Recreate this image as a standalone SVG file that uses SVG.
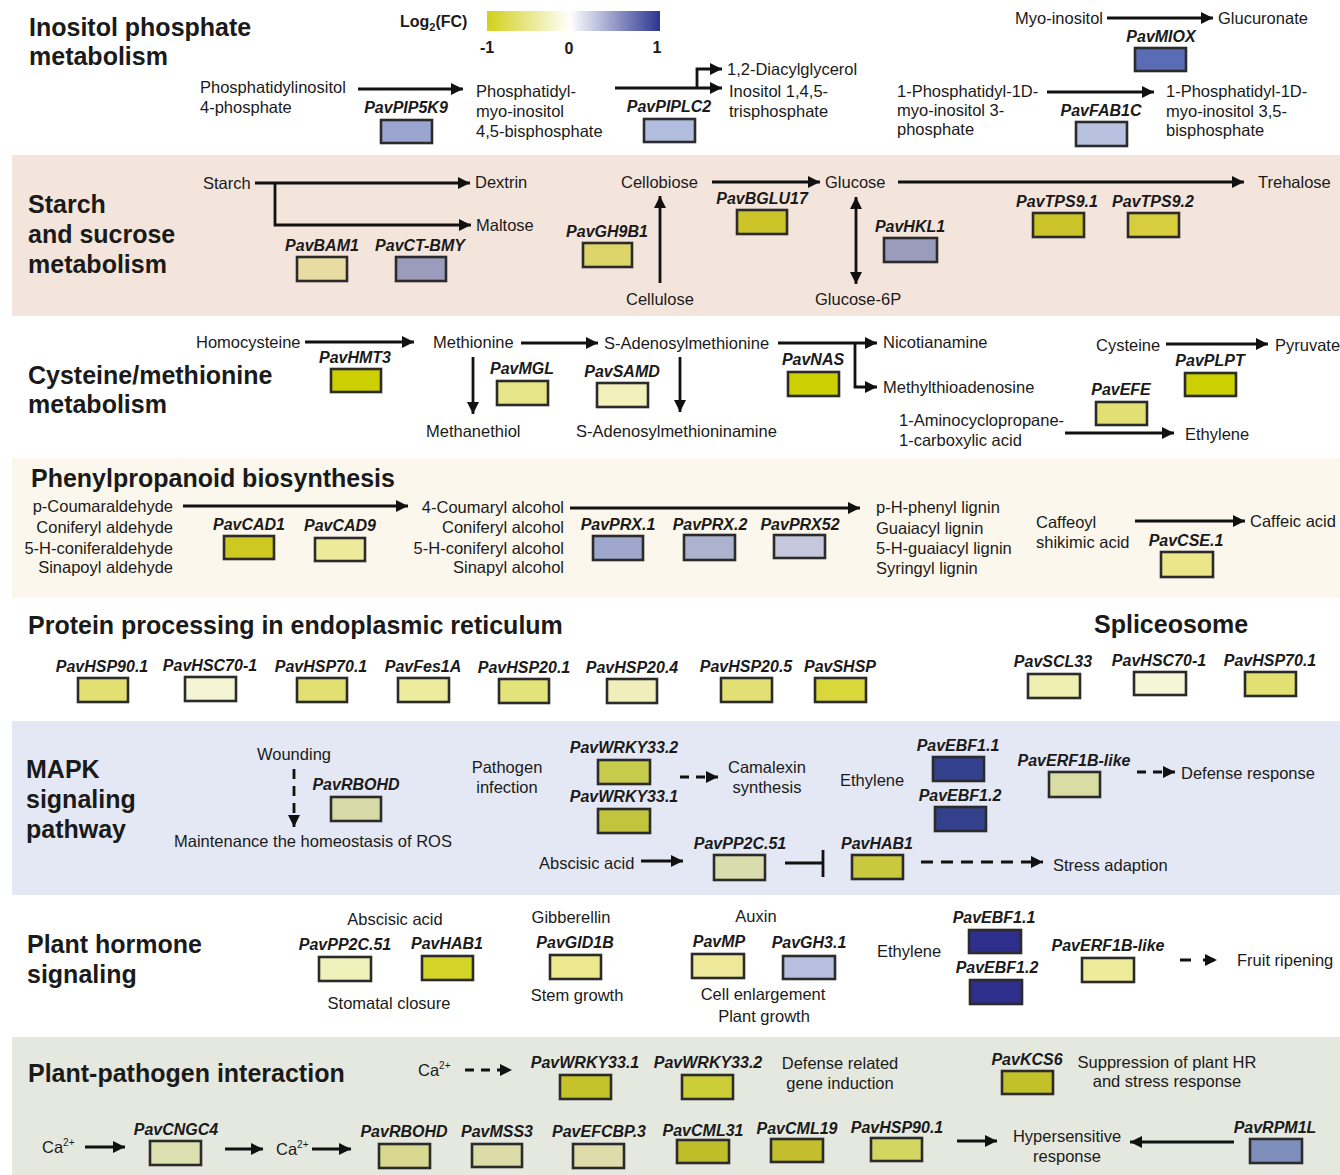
<svg xmlns="http://www.w3.org/2000/svg" width="1340" height="1175" viewBox="0 0 1340 1175">
<defs>
<linearGradient id="lg" x1="0" y1="0" x2="1" y2="0">
<stop offset="0" stop-color="#d2d01a"/>
<stop offset="0.48" stop-color="#ffffff"/>
<stop offset="1" stop-color="#2b3590"/>
</linearGradient>
<marker id="ah" viewBox="0 0 10 10" refX="10" refY="5" markerWidth="13" markerHeight="12" markerUnits="userSpaceOnUse" orient="auto-start-reverse">
<path d="M0,0 L10,5 L0,10 z" fill="#111"/>
</marker>
<style>
text{font-family:"Liberation Sans",Arial,sans-serif;font-size:16.5px;fill:#1a1a1a}
.h{font-size:25px;font-weight:bold}
.g{font-size:16px;font-weight:bold;font-style:italic;text-anchor:middle}
.m{text-anchor:middle}
.e{text-anchor:end}
.box{stroke:#2b2b2b;stroke-width:2.6}
.ln{stroke:#111;stroke-width:2.8;fill:none}
.ar{marker-end:url(#ah)}
.da{stroke-dasharray:9 6}
.lg{font-size:16px;font-weight:bold}
</style>
</defs>

<rect width="1340" height="1175" fill="#ffffff"/>
<g id="bands">
<rect x="12" y="155" width="1328" height="161" fill="#f4e5dc"/>
<rect x="12" y="458" width="1328" height="140" fill="#fcf7ec"/>
<rect x="12" y="721" width="1328" height="174" fill="#e4e8f4"/>
<rect x="12" y="1037" width="1328" height="138" fill="#e5e8df"/>
</g>

<g id="titles">
<text class="h" x="29" y="36">Inositol phosphate</text>
<text class="h" x="29" y="65">metabolism</text>
<text class="h" x="28" y="213">Starch</text>
<text class="h" x="28" y="243">and sucrose</text>
<text class="h" x="28" y="273">metabolism</text>
<text class="h" x="28" y="384">Cysteine/methionine</text>
<text class="h" x="28" y="413">metabolism</text>
<text class="h" x="31" y="487">Phenylpropanoid biosynthesis</text>
<text class="h" x="28" y="634">Protein processing in endoplasmic reticulum</text>
<text class="h" x="1094" y="633">Spliceosome</text>
<text class="h" x="26" y="778">MAPK</text>
<text class="h" x="26" y="808">signaling</text>
<text class="h" x="26" y="838">pathway</text>
<text class="h" x="27" y="953">Plant hormone</text>
<text class="h" x="27" y="983">signaling</text>
<text class="h" x="28" y="1082">Plant-pathogen interaction</text>
</g>

<g id="legend">
<text class="lg" x="400" y="27">Log<tspan font-size="11" dy="4">2</tspan><tspan dy="-4">(FC)</tspan></text>
<rect x="487" y="11" width="173" height="20" fill="url(#lg)"/>
<text class="lg m" x="487" y="53">-1</text>
<text class="lg m" x="569" y="54">0</text>
<text class="lg m" x="657" y="53">1</text>
</g>

<g id="connectors">
<line class="ln ar" x1="358" y1="89" x2="463" y2="89"/>
<line class="ln ar" x1="615" y1="88" x2="722" y2="88"/>
<path class="ln ar" d="M697,88 V69 H722"/>
<line class="ln ar" x1="1107" y1="18" x2="1213" y2="18"/>
<line class="ln ar" x1="1047" y1="92" x2="1154" y2="92"/>

<path class="ln ar" d="M255,183 H470"/>
<path class="ln ar" d="M275,183 V225 H471"/>
<line class="ln ar" x1="660" y1="283" x2="660" y2="196"/>
<line class="ln ar" x1="712" y1="182" x2="820" y2="182"/>
<line class="ln ar" x1="856" y1="197" x2="856" y2="284" marker-start="url(#ah)"/>
<line class="ln ar" x1="898" y1="182" x2="1244" y2="182"/>

<line class="ln ar" x1="305" y1="342" x2="414" y2="342"/>
<line class="ln ar" x1="473" y1="357" x2="473" y2="414"/>
<line class="ln ar" x1="521" y1="343" x2="598" y2="343"/>
<line class="ln ar" x1="680" y1="357" x2="680" y2="412"/>
<path class="ln ar" d="M778,343 H877"/>
<path class="ln ar" d="M855,343 V387 H877"/>
<line class="ln ar" x1="1166" y1="344" x2="1268" y2="344"/>
<line class="ln ar" x1="1065" y1="433" x2="1174" y2="433"/>

<line class="ln ar" x1="183" y1="506" x2="408" y2="506"/>
<line class="ln ar" x1="570" y1="508" x2="860" y2="508"/>
<line class="ln ar" x1="1135" y1="521" x2="1245" y2="521"/>

<line class="ln ar" x1="294" y1="769" x2="294" y2="827" style="stroke-dasharray:10 7"/>
<line class="ln ar" x1="680" y1="777" x2="718" y2="777" style="stroke-dasharray:9 7"/>
<line class="ln ar" x1="1137" y1="772" x2="1175" y2="772" style="stroke-dasharray:9 7"/>
<line class="ln ar" x1="641" y1="861" x2="683" y2="861"/>
<line class="ln" x1="785" y1="863" x2="823" y2="863"/>
<line class="ln" x1="823" y1="850" x2="823" y2="877"/>
<line class="ln ar" x1="921" y1="862" x2="1043" y2="862" style="stroke-dasharray:12 8"/>

<line class="ln ar" x1="1180" y1="960" x2="1217" y2="960" style="stroke-dasharray:11 12"/>

<line class="ln ar" x1="465" y1="1070" x2="512" y2="1070" style="stroke-dasharray:9 7"/>
<line class="ln ar" x1="85" y1="1147" x2="125" y2="1147"/>
<line class="ln ar" x1="225" y1="1149" x2="263" y2="1149"/>
<line class="ln ar" x1="312" y1="1149" x2="351" y2="1149"/>
<line class="ln ar" x1="957" y1="1141" x2="997" y2="1141"/>
<line class="ln ar" x1="1234" y1="1142" x2="1130" y2="1142"/>
</g>

<!-- Inositol phosphate metabolism -->
<g id="n-pi4p"><text x="200" y="93">Phosphatidylinositol</text><text x="200" y="113">4-phosphate</text></g>
<g id="n-pip2"><text x="476" y="97">Phosphatidyl-</text><text x="476" y="117">myo-inositol</text><text x="476" y="137">4,5-bisphosphate</text></g>
<g id="n-dag"><text x="727" y="75">1,2-Diacylglycerol</text></g>
<g id="n-ip3"><text x="729" y="97">Inositol 1,4,5-</text><text x="729" y="117">trisphosphate</text></g>
<g id="n-myo"><text x="1015" y="24">Myo-inositol</text></g>
<g id="n-glucuronate"><text x="1218" y="24">Glucuronate</text></g>
<g id="n-pi3p"><text x="897" y="97">1-Phosphatidyl-1D-</text><text x="897" y="116">myo-inositol 3-</text><text x="897" y="135">phosphate</text></g>
<g id="n-pi35p"><text x="1166" y="97">1-Phosphatidyl-1D-</text><text x="1166" y="117">myo-inositol 3,5-</text><text x="1166" y="136">bisphosphate</text></g>
<g id="g-PavPIP5K9"><text class="g" x="406" y="113">PavPIP5K9</text><rect class="box" x="381" y="120" width="51" height="23" fill="#9aa6d0"/></g>
<g id="g-PavPIPLC2"><text class="g" x="669" y="112">PavPIPLC2</text><rect class="box" x="644" y="119" width="51" height="23" fill="#b3bde0"/></g>
<g id="g-PavMIOX"><text class="g" x="1161" y="42">PavMIOX</text><rect class="box" x="1135" y="48" width="51" height="23" fill="#5a6db4"/></g>
<g id="g-PavFAB1C"><text class="g" x="1101" y="116">PavFAB1C</text><rect class="box" x="1076" y="122" width="51" height="24" fill="#b8c2e0"/></g>

<!-- Starch and sucrose -->
<g id="n-starch"><text x="203" y="189">Starch</text></g>
<g id="n-dextrin"><text x="475" y="188">Dextrin</text></g>
<g id="n-maltose"><text x="476" y="231">Maltose</text></g>
<g id="n-cellobiose"><text x="621" y="188">Cellobiose</text></g>
<g id="n-cellulose"><text x="626" y="305">Cellulose</text></g>
<g id="n-glucose"><text x="825" y="188">Glucose</text></g>
<g id="n-g6p"><text x="815" y="305">Glucose-6P</text></g>
<g id="n-trehalose"><text x="1258" y="188">Trehalose</text></g>
<g id="g-PavBAM1"><text class="g" x="322" y="251">PavBAM1</text><rect class="box" x="297" y="257" width="50" height="24" fill="#e8dca2"/></g>
<g id="g-PavCT-BMY"><text class="g" x="420" y="251">PavCT-BMY</text><rect class="box" x="396" y="257" width="50" height="24" fill="#9b9bbb"/></g>
<g id="g-PavGH9B1"><text class="g" x="607" y="237">PavGH9B1</text><rect class="box" x="583" y="243" width="49" height="24" fill="#ddd46a"/></g>
<g id="g-PavBGLU17"><text class="g" x="762" y="204">PavBGLU17</text><rect class="box" x="737" y="210" width="50" height="24" fill="#cdc42a"/></g>
<g id="g-PavHKL1"><text class="g" x="910" y="232">PavHKL1</text><rect class="box" x="884" y="238" width="53" height="24" fill="#9a9cbe"/></g>
<g id="g-PavTPS9.1"><text class="g" x="1057" y="207">PavTPS9.1</text><rect class="box" x="1033" y="213" width="51" height="24" fill="#ccc22a"/></g>
<g id="g-PavTPS9.2"><text class="g" x="1153" y="207">PavTPS9.2</text><rect class="box" x="1128" y="213" width="51" height="24" fill="#d8cd3c"/></g>

<!-- Cysteine / methionine -->
<g id="n-homocysteine"><text x="196" y="348">Homocysteine</text></g>
<g id="n-methionine"><text x="433" y="348">Methionine</text></g>
<g id="n-methanethiol"><text x="426" y="437">Methanethiol</text></g>
<g id="n-sam"><text x="604" y="349">S-Adenosylmethionine</text></g>
<g id="n-samine"><text x="576" y="437">S-Adenosylmethioninamine</text></g>
<g id="n-nicotianamine"><text x="883" y="348">Nicotianamine</text></g>
<g id="n-mta"><text x="883" y="393">Methylthioadenosine</text></g>
<g id="n-cysteine"><text x="1096" y="351">Cysteine</text></g>
<g id="n-pyruvate"><text x="1275" y="351">Pyruvate</text></g>
<g id="n-acc"><text x="899" y="426">1-Aminocyclopropane-</text><text x="899" y="446">1-carboxylic acid</text></g>
<g id="n-ethylene1"><text x="1185" y="440">Ethylene</text></g>
<g id="g-PavHMT3"><text class="g" x="355" y="363">PavHMT3</text><rect class="box" x="331" y="369" width="50" height="23" fill="#ccd000"/></g>
<g id="g-PavMGL"><text class="g" x="522" y="374">PavMGL</text><rect class="box" x="497" y="381" width="51" height="24" fill="#e6e587"/></g>
<g id="g-PavSAMD"><text class="g" x="622" y="377">PavSAMD</text><rect class="box" x="597" y="383" width="51" height="24" fill="#f2f0bb"/></g>
<g id="g-PavNAS"><text class="g" x="813" y="365">PavNAS</text><rect class="box" x="788" y="372" width="51" height="24" fill="#ccd000"/></g>
<g id="g-PavPLPT"><text class="g" x="1210" y="366">PavPLPT</text><rect class="box" x="1185" y="373" width="51" height="23" fill="#ccd000"/></g>
<g id="g-PavEFE"><text class="g" x="1121" y="395">PavEFE</text><rect class="box" x="1096" y="402" width="51" height="23" fill="#e2e074"/></g>

<!-- Phenylpropanoid -->
<g id="n-aldehydes"><text class="e" x="173" y="512">p-Coumaraldehyde</text><text class="e" x="173" y="533">Coniferyl aldehyde</text><text class="e" x="173" y="554">5-H-coniferaldehyde</text><text class="e" x="173" y="573">Sinapoyl aldehyde</text></g>
<g id="n-alcohols"><text class="e" x="564" y="513">4-Coumaryl alcohol</text><text class="e" x="564" y="533">Coniferyl alcohol</text><text class="e" x="564" y="554">5-H-coniferyl alcohol</text><text class="e" x="564" y="573">Sinapyl alcohol</text></g>
<g id="n-lignins"><text x="876" y="513">p-H-phenyl lignin</text><text x="876" y="534">Guaiacyl lignin</text><text x="876" y="554">5-H-guaiacyl lignin</text><text x="876" y="574">Syringyl lignin</text></g>
<g id="n-caffeoyl"><text x="1036" y="528">Caffeoyl</text><text x="1036" y="548">shikimic acid</text></g>
<g id="n-caffeic"><text x="1250" y="527">Caffeic acid</text></g>
<g id="g-PavCAD1"><text class="g" x="249" y="530">PavCAD1</text><rect class="box" x="224" y="536" width="50" height="23" fill="#cdc920"/></g>
<g id="g-PavCAD9"><text class="g" x="340" y="531">PavCAD9</text><rect class="box" x="315" y="538" width="50" height="23" fill="#eeea9c"/></g>
<g id="g-PavPRX.1"><text class="g" x="618" y="530">PavPRX.1</text><rect class="box" x="593" y="536" width="50" height="24" fill="#9ea8cc"/></g>
<g id="g-PavPRX.2"><text class="g" x="710" y="530">PavPRX.2</text><rect class="box" x="684" y="535" width="51" height="25" fill="#adb3cf"/></g>
<g id="g-PavPRX52"><text class="g" x="800" y="530">PavPRX52</text><rect class="box" x="774" y="535" width="51" height="23" fill="#c5c8dc"/></g>
<g id="g-PavCSE.1"><text class="g" x="1186" y="546">PavCSE.1</text><rect class="box" x="1161" y="552" width="52" height="25" fill="#ebe68a"/></g>

<!-- Protein processing in ER -->
<g id="g-PavHSP90.1-er"><text class="g" x="102" y="672">PavHSP90.1</text><rect class="box" x="78" y="678" width="50" height="24" fill="#e2e070"/></g>
<g id="g-PavHSC70-1-er"><text class="g" x="210" y="671">PavHSC70-1</text><rect class="box" x="185" y="677" width="51" height="24" fill="#f5f5d6"/></g>
<g id="g-PavHSP70.1-er"><text class="g" x="321" y="672">PavHSP70.1</text><rect class="box" x="297" y="678" width="50" height="24" fill="#e1e070"/></g>
<g id="g-PavFes1A"><text class="g" x="423" y="672">PavFes1A</text><rect class="box" x="398" y="678" width="51" height="24" fill="#ecec9f"/></g>
<g id="g-PavHSP20.1"><text class="g" x="524" y="673">PavHSP20.1</text><rect class="box" x="499" y="679" width="50" height="24" fill="#e2e378"/></g>
<g id="g-PavHSP20.4"><text class="g" x="632" y="673">PavHSP20.4</text><rect class="box" x="607" y="679" width="50" height="24" fill="#f0efbc"/></g>
<g id="g-PavHSP20.5"><text class="g" x="746" y="672">PavHSP20.5</text><rect class="box" x="721" y="678" width="51" height="24" fill="#e2e075"/></g>
<g id="g-PavSHSP"><text class="g" x="840" y="672">PavSHSP</text><rect class="box" x="815" y="678" width="51" height="24" fill="#d8d83a"/></g>

<!-- Spliceosome -->
<g id="g-PavSCL33"><text class="g" x="1053" y="667">PavSCL33</text><rect class="box" x="1028" y="674" width="52" height="24" fill="#f0efb2"/></g>
<g id="g-PavHSC70-1-sp"><text class="g" x="1159" y="666">PavHSC70-1</text><rect class="box" x="1134" y="672" width="52" height="23" fill="#f5f5d8"/></g>
<g id="g-PavHSP70.1-sp"><text class="g" x="1270" y="666">PavHSP70.1</text><rect class="box" x="1245" y="672" width="51" height="24" fill="#e2e070"/></g>

<!-- MAPK -->
<g id="n-wounding"><text class="m" x="294" y="760">Wounding</text></g>
<g id="n-ros"><text x="174" y="847">Maintenance the homeostasis of ROS</text></g>
<g id="n-pathogen"><text class="m" x="507" y="773">Pathogen</text><text class="m" x="507" y="793">infection</text></g>
<g id="n-camalexin"><text class="m" x="767" y="773">Camalexin</text><text class="m" x="767" y="793">synthesis</text></g>
<g id="n-ethylene2"><text x="840" y="786">Ethylene</text></g>
<g id="n-defense"><text x="1181" y="779">Defense response</text></g>
<g id="n-aba1"><text x="539" y="869">Abscisic acid</text></g>
<g id="n-stress"><text x="1053" y="871">Stress adaption</text></g>
<g id="g-PavRBOHD-mapk"><text class="g" x="356" y="790">PavRBOHD</text><rect class="box" x="331" y="797" width="50" height="24" fill="#d8dba8"/></g>
<g id="g-PavWRKY33.2-mapk"><text class="g" x="624" y="753">PavWRKY33.2</text><rect class="box" x="598" y="760" width="52" height="24" fill="#c8cc4c"/></g>
<g id="g-PavWRKY33.1-mapk"><text class="g" x="624" y="802">PavWRKY33.1</text><rect class="box" x="598" y="809" width="52" height="24" fill="#c2c43e"/></g>
<g id="g-PavEBF1.1-mapk"><text class="g" x="958" y="751">PavEBF1.1</text><rect class="box" x="933" y="757" width="51" height="24" fill="#33418c"/></g>
<g id="g-PavEBF1.2-mapk"><text class="g" x="960" y="801">PavEBF1.2</text><rect class="box" x="935" y="807" width="51" height="24" fill="#33418c"/></g>
<g id="g-PavERF1B-like-mapk"><text class="g" x="1074" y="766">PavERF1B-like</text><rect class="box" x="1049" y="772" width="51" height="25" fill="#d9dca3"/></g>
<g id="g-PavPP2C.51-mapk"><text class="g" x="740" y="849">PavPP2C.51</text><rect class="box" x="714" y="855" width="51" height="25" fill="#d9dcac"/></g>
<g id="g-PavHAB1-mapk"><text class="g" x="877" y="849">PavHAB1</text><rect class="box" x="852" y="855" width="51" height="24" fill="#c9c93f"/></g>

<!-- Plant hormone signaling -->
<g id="n-aba2"><text class="m" x="395" y="925">Abscisic acid</text></g>
<g id="n-stomatal"><text class="m" x="389" y="1009">Stomatal closure</text></g>
<g id="n-gibberellin"><text class="m" x="571" y="923">Gibberellin</text></g>
<g id="n-stem"><text class="m" x="577" y="1001">Stem growth</text></g>
<g id="n-auxin"><text class="m" x="756" y="922">Auxin</text></g>
<g id="n-cell"><text class="m" x="763" y="1000">Cell enlargement</text><text class="m" x="764" y="1022">Plant growth</text></g>
<g id="n-ethylene3"><text x="877" y="957">Ethylene</text></g>
<g id="n-fruit"><text x="1237" y="966">Fruit ripening</text></g>
<g id="g-PavPP2C.51-ph"><text class="g" x="345" y="950">PavPP2C.51</text><rect class="box" x="319" y="957" width="52" height="24" fill="#f0f0ba"/></g>
<g id="g-PavHAB1-ph"><text class="g" x="447" y="949">PavHAB1</text><rect class="box" x="422" y="956" width="51" height="24" fill="#d4d428"/></g>
<g id="g-PavGID1B"><text class="g" x="575" y="948">PavGID1B</text><rect class="box" x="550" y="955" width="51" height="24" fill="#ece98e"/></g>
<g id="g-PavMP"><text class="g" x="719" y="947">PavMP</text><rect class="box" x="692" y="954" width="52" height="24" fill="#eee99a"/></g>
<g id="g-PavGH3.1"><text class="g" x="809" y="948">PavGH3.1</text><rect class="box" x="783" y="956" width="52" height="23" fill="#b7bfe0"/></g>
<g id="g-PavEBF1.1-ph"><text class="g" x="994" y="923">PavEBF1.1</text><rect class="box" x="969" y="930" width="52" height="23" fill="#2e2f8d"/></g>
<g id="g-PavEBF1.2-ph"><text class="g" x="997" y="973">PavEBF1.2</text><rect class="box" x="970" y="980" width="52" height="24" fill="#2e2f8d"/></g>
<g id="g-PavERF1B-like-ph"><text class="g" x="1108" y="951">PavERF1B-like</text><rect class="box" x="1082" y="958" width="52" height="24" fill="#eeec9a"/></g>

<!-- Plant-pathogen interaction -->
<g id="n-ca1"><text x="418" y="1076">Ca<tspan font-size="10" dy="-7">2+</tspan></text></g>
<g id="n-defgene"><text class="m" x="840" y="1069">Defense related</text><text class="m" x="840" y="1089">gene induction</text></g>
<g id="n-suppress"><text class="m" x="1167" y="1068">Suppression of plant HR</text><text class="m" x="1167" y="1087">and stress response</text></g>
<g id="n-ca2"><text x="42" y="1153">Ca<tspan font-size="10" dy="-7">2+</tspan></text></g>
<g id="n-ca3"><text x="276" y="1155">Ca<tspan font-size="10" dy="-7">2+</tspan></text></g>
<g id="n-hr"><text class="m" x="1067" y="1142">Hypersensitive</text><text class="m" x="1067" y="1162">response</text></g>
<g id="g-PavWRKY33.1-pp"><text class="g" x="585" y="1068">PavWRKY33.1</text><rect class="box" x="560" y="1075" width="51" height="24" fill="#c4c42a"/></g>
<g id="g-PavWRKY33.2-pp"><text class="g" x="708" y="1068">PavWRKY33.2</text><rect class="box" x="682" y="1075" width="51" height="24" fill="#ccce38"/></g>
<g id="g-PavKCS6"><text class="g" x="1027" y="1065">PavKCS6</text><rect class="box" x="1002" y="1071" width="51" height="23" fill="#c2c12a"/></g>
<g id="g-PavCNGC4"><text class="g" x="176" y="1135">PavCNGC4</text><rect class="box" x="150" y="1141" width="51" height="24" fill="#dde0b0"/></g>
<g id="g-PavRBOHD-pp"><text class="g" x="404" y="1137">PavRBOHD</text><rect class="box" x="379" y="1144" width="51" height="24" fill="#d8d890"/></g>
<g id="g-PavMSS3"><text class="g" x="497" y="1137">PavMSS3</text><rect class="box" x="472" y="1144" width="50" height="23" fill="#dcdca8"/></g>
<g id="g-PavEFCBP.3"><text class="g" x="599" y="1137">PavEFCBP.3</text><rect class="box" x="573" y="1144" width="51" height="24" fill="#dedcaa"/></g>
<g id="g-PavCML31"><text class="g" x="703" y="1136">PavCML31</text><rect class="box" x="677" y="1140" width="52" height="23" fill="#c0bd2a"/></g>
<g id="g-PavCML19"><text class="g" x="797" y="1134">PavCML19</text><rect class="box" x="771" y="1139" width="52" height="23" fill="#c2be2c"/></g>
<g id="g-PavHSP90.1-pp"><text class="g" x="897" y="1133">PavHSP90.1</text><rect class="box" x="871" y="1138" width="51" height="23" fill="#d4d662"/></g>
<g id="g-PavRPM1L"><text class="g" x="1275" y="1133">PavRPM1L</text><rect class="box" x="1250" y="1139" width="52" height="24" fill="#7f8fbc"/></g>
</svg>
